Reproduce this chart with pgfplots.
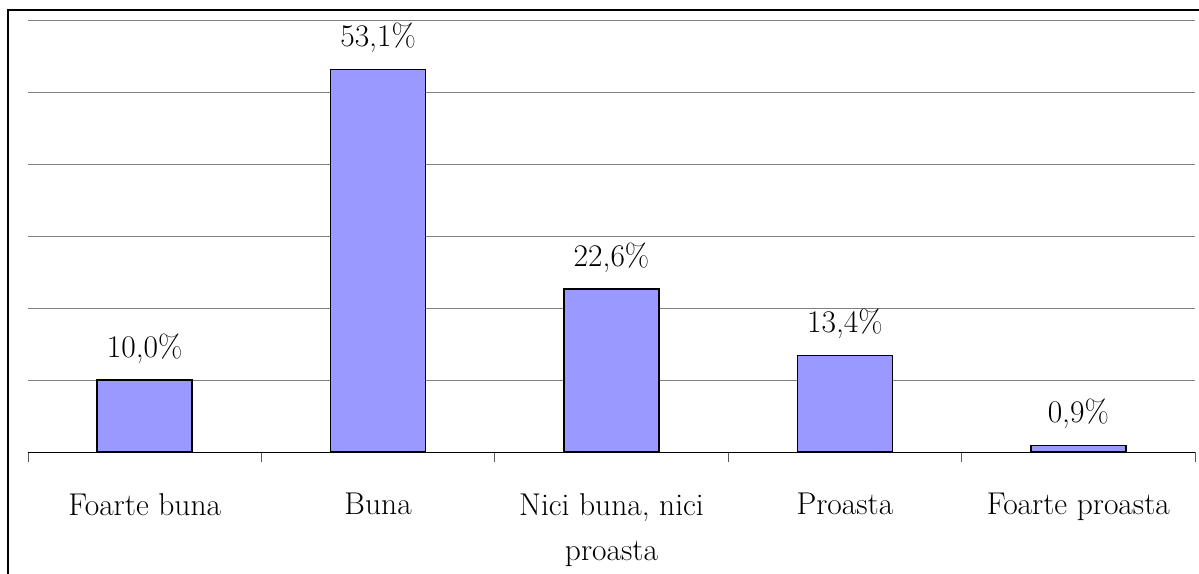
\documentclass[border=0pt]{standalone}
\usepackage{pgfplots}
\pgfplotsset{compat=1.18}
\definecolor{barblue}{HTML}{9999FF}
\begin{document}
\begin{tikzpicture}
\useasboundingbox (0pt,0pt) rectangle (1199pt,573pt);
\draw[line width=1.5pt] (8pt,-20pt) -- (8pt,563pt) -- (1220pt,563pt);
\begin{axis}[at={(28pt,121pt)}, anchor=south west, scale only axis,
 width=1167pt, height=432pt,
 xmin=-0.5, xmax=4.5, ymin=0, ymax=60,
 axis x line=bottom, axis y line=left,
 x axis line style={-, black, line width=1pt},
 y axis line style={draw=none},
 ytick={0,10,...,60}, yticklabels={}, ytick style={draw=none},
 ymajorgrids, grid style={gray, line width=1pt},
 xtick={0,...,4},
 xticklabels={Foarte buna, Buna, {Nici buna, nici\\proasta}, Proasta, Foarte proasta},
 major x tick style={draw=none},
 minor xtick={-0.5,0.5,...,4.5}, minor tick length=10pt, tick align=outside,
 minor x tick style={gray!70!black, line width=1pt},
 xticklabel style={font=\fontsize{31.5}{45}\selectfont, align=center, anchor=north, inner sep=0pt, yshift=-37pt},
 ]
\addplot[ybar, bar width=95pt, fill=barblue, draw=black, line width=1.6pt,
 nodes near coords={\pgfmathprintnumber[fixed,fixed zerofill,precision=1,use comma,assume math mode=true]{\pgfplotspointmeta}\%},
 nodes near coords style={font=\fontsize{31.5}{36}\selectfont, anchor=base, yshift=23pt, inner sep=0pt}]
 coordinates {(0,10.0) (1,53.1) (2,22.6) (3,13.4) (4,0.9)};
\end{axis}
\end{tikzpicture}
\end{document}
